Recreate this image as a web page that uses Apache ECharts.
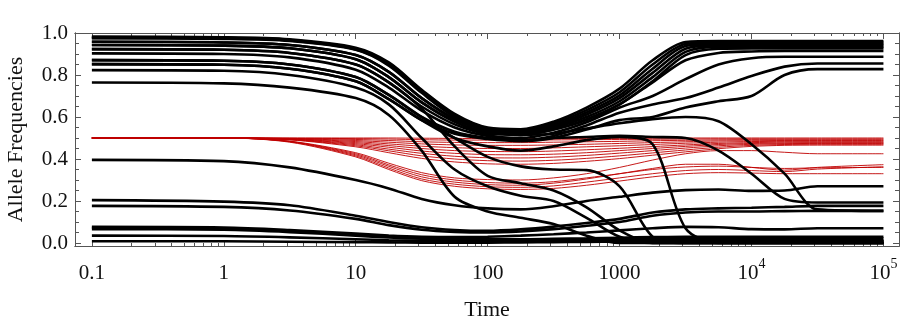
<!DOCTYPE html>
<html>
<head>
<meta charset="utf-8">
<script src="https://cdn.jsdelivr.net/npm/echarts@6/dist/echarts.min.js"></script>
<style>
html, body { margin: 0; padding: 0; background: #fff; }
#chart { width: 900px; height: 322px; }
</style>
</head>
<body>
<div id="chart"></div>
<script>
// sample times (x is log scale)
var times = [0.1, 1, 3.16, 10, 17.8, 31.6, 56.2, 100, 178, 316, 562, 1000, 1780, 3160, 5620, 10000, 17800, 31600, 100000];

// black curves - high group, come back to ~0.95
var top1 = [0.983, 0.98, 0.97, 0.93, 0.86, 0.73, 0.615, 0.55, 0.542, 0.578, 0.645, 0.735, 0.87, 0.957, 0.962, 0.962, 0.962, 0.962, 0.962];
var top2 = [0.98, 0.977, 0.967, 0.926, 0.855, 0.725, 0.61, 0.546, 0.537, 0.57, 0.633, 0.718, 0.85, 0.948, 0.955, 0.955, 0.955, 0.955, 0.955];
var top3 = [0.977, 0.974, 0.964, 0.922, 0.85, 0.72, 0.605, 0.542, 0.532, 0.562, 0.622, 0.703, 0.83, 0.938, 0.948, 0.948, 0.948, 0.948, 0.948];
var top4 = [0.958, 0.955, 0.943, 0.895, 0.815, 0.69, 0.59, 0.535, 0.526, 0.555, 0.612, 0.69, 0.81, 0.925, 0.941, 0.941, 0.941, 0.941, 0.941];
var top5 = [0.943, 0.94, 0.927, 0.875, 0.79, 0.67, 0.578, 0.528, 0.521, 0.548, 0.60, 0.675, 0.79, 0.91, 0.934, 0.934, 0.934, 0.934, 0.934];
var top6 = [0.923, 0.92, 0.905, 0.85, 0.765, 0.65, 0.565, 0.52, 0.515, 0.54, 0.59, 0.66, 0.77, 0.895, 0.925, 0.927, 0.927, 0.927, 0.927];
// slower risers
var rise1 = [0.958, 0.955, 0.943, 0.895, 0.815, 0.69, 0.59, 0.535, 0.515, 0.54, 0.585, 0.66, 0.765, 0.87, 0.905, 0.912, 0.914, 0.914, 0.914];
var rise2 = [0.903, 0.90, 0.884, 0.825, 0.74, 0.63, 0.55, 0.51, 0.50, 0.525, 0.575, 0.645, 0.70, 0.78, 0.85, 0.88, 0.887, 0.887, 0.887];
var rise3 = [0.871, 0.868, 0.85, 0.79, 0.705, 0.60, 0.53, 0.50, 0.49, 0.51, 0.56, 0.62, 0.66, 0.69, 0.74, 0.795, 0.84, 0.855, 0.855];
var rise4 = [0.852, 0.849, 0.83, 0.77, 0.685, 0.585, 0.52, 0.495, 0.485, 0.50, 0.54, 0.585, 0.60, 0.645, 0.675, 0.70, 0.80, 0.828, 0.828];
// hump then fall
var hump1 = [0.852, 0.849, 0.83, 0.77, 0.685, 0.585, 0.50, 0.46, 0.44, 0.46, 0.49, 0.505, 0.47, 0.07, 0, 0, 0, 0, 0];
var hump2 = [0.975, 0.972, 0.962, 0.92, 0.845, 0.715, 0.60, 0.54, 0.515, 0.52, 0.545, 0.57, 0.59, 0.60, 0.58, 0.47, 0.33, 0.16, 0.153];
var hump3 = [0.943, 0.94, 0.927, 0.875, 0.79, 0.67, 0.578, 0.515, 0.49, 0.50, 0.505, 0.51, 0.505, 0.50, 0.44, 0.33, 0.21, 0.193, 0.193];
// lost
var lost1 = [0.764, 0.76, 0.74, 0.69, 0.61, 0.44, 0.22, 0.15, 0.12, 0.09, 0.035, 0, 0, 0, 0, 0, 0, 0, 0];
var lost2 = [0.823, 0.82, 0.80, 0.74, 0.66, 0.50, 0.35, 0.27, 0.225, 0.20, 0.12, 0.03, 0, 0, 0, 0, 0, 0, 0];
var lost3 = [0.923, 0.92, 0.905, 0.85, 0.765, 0.64, 0.46, 0.32, 0.285, 0.25, 0.17, 0.06, 0, 0, 0, 0, 0, 0, 0];
var lost4 = [0.871, 0.868, 0.85, 0.79, 0.705, 0.60, 0.50, 0.41, 0.365, 0.35, 0.347, 0.27, 0.03, 0, 0, 0, 0, 0, 0];
// low group
var low1 = [0.396, 0.39, 0.36, 0.30, 0.26, 0.21, 0.18, 0.165, 0.16, 0.175, 0.20, 0.22, 0.24, 0.252, 0.255, 0.248, 0.25, 0.27, 0.27];
var low2 = [0.204, 0.197, 0.18, 0.13, 0.10, 0.075, 0.062, 0.058, 0.065, 0.078, 0.095, 0.115, 0.145, 0.16, 0.165, 0.168, 0.172, 0.177, 0.177];
var low3 = [0.177, 0.172, 0.155, 0.115, 0.085, 0.063, 0.053, 0.05, 0.055, 0.066, 0.082, 0.10, 0.13, 0.145, 0.15, 0.15, 0.152, 0.153, 0.153];
var low4 = [0.077, 0.074, 0.062, 0.045, 0.036, 0.03, 0.028, 0.03, 0.035, 0.042, 0.05, 0.06, 0.07, 0.077, 0.075, 0.066, 0.065, 0.07, 0.07];
var low5 = [0.072, 0.069, 0.057, 0.04, 0.03, 0.024, 0.02, 0.018, 0.018, 0.02, 0.022, 0.025, 0.028, 0.03, 0.03, 0.03, 0.03, 0.03, 0.03];
var low6 = [0.066, 0.063, 0.052, 0.035, 0.026, 0.02, 0.016, 0.014, 0.014, 0.015, 0.016, 0.018, 0.02, 0.021, 0.022, 0.022, 0.022, 0.022, 0.022];
var low7 = [0.035, 0.033, 0.027, 0.018, 0.013, 0.01, 0.008, 0.008, 0.009, 0.01, 0.011, 0.012, 0.013, 0.014, 0.014, 0.014, 0.014, 0.014, 0.014];
var low8 = [0.008, 0.008, 0.006, 0.004, 0.003, 0.002, 0.002, 0.002, 0.003, 0.004, 0.005, 0.006, 0.006, 0.007, 0.007, 0.007, 0.007, 0.007, 0.007];

// red curves, all start at 0.5
var red1 = [0.5, 0.5, 0.5, 0.5, 0.5, 0.499, 0.498, 0.497, 0.497, 0.497, 0.498, 0.498, 0.499, 0.5, 0.5, 0.5, 0.5, 0.5, 0.5];
var red2 = [0.5, 0.5, 0.499, 0.497, 0.495, 0.492, 0.49, 0.49, 0.49, 0.491, 0.492, 0.493, 0.494, 0.495, 0.496, 0.496, 0.496, 0.496, 0.496];
var red3 = [0.5, 0.5, 0.498, 0.493, 0.488, 0.482, 0.479, 0.478, 0.478, 0.48, 0.482, 0.484, 0.487, 0.489, 0.491, 0.492, 0.492, 0.492, 0.492];
var red4 = [0.5, 0.5, 0.497, 0.488, 0.48, 0.472, 0.467, 0.465, 0.465, 0.467, 0.47, 0.474, 0.478, 0.482, 0.486, 0.487, 0.488, 0.488, 0.488];
var red5 = [0.5, 0.5, 0.496, 0.483, 0.472, 0.461, 0.454, 0.45, 0.45, 0.453, 0.458, 0.463, 0.469, 0.475, 0.48, 0.483, 0.484, 0.484, 0.484];
var red6 = [0.5, 0.5, 0.495, 0.478, 0.464, 0.45, 0.44, 0.436, 0.435, 0.438, 0.444, 0.451, 0.459, 0.467, 0.474, 0.478, 0.48, 0.48, 0.48];
var red7 = [0.5, 0.5, 0.494, 0.473, 0.456, 0.438, 0.427, 0.421, 0.42, 0.423, 0.43, 0.44, 0.45, 0.46, 0.469, 0.474, 0.476, 0.477, 0.477];
var red8 = [0.5, 0.5, 0.493, 0.468, 0.447, 0.427, 0.413, 0.406, 0.405, 0.409, 0.417, 0.428, 0.44, 0.452, 0.463, 0.47, 0.473, 0.474, 0.474];
var red9 = [0.5, 0.5, 0.492, 0.463, 0.439, 0.415, 0.40, 0.392, 0.39, 0.394, 0.403, 0.415, 0.429, 0.443, 0.456, 0.465, 0.469, 0.47, 0.47];
var red10 = [0.5, 0.5, 0.491, 0.458, 0.43, 0.403, 0.386, 0.377, 0.375, 0.379, 0.389, 0.402, 0.418, 0.434, 0.449, 0.46, 0.465, 0.466, 0.466];
var red11 = [0.5, 0.5, 0.485, 0.43, 0.38, 0.335, 0.31, 0.302, 0.30, 0.31, 0.33, 0.36, 0.395, 0.425, 0.44, 0.44, 0.432, 0.425, 0.425];
var red12 = [0.5, 0.5, 0.483, 0.42, 0.365, 0.315, 0.29, 0.278, 0.275, 0.285, 0.305, 0.33, 0.355, 0.375, 0.375, 0.36, 0.347, 0.36, 0.373];
var red13 = [0.5, 0.5, 0.482, 0.415, 0.357, 0.305, 0.28, 0.268, 0.265, 0.272, 0.29, 0.31, 0.33, 0.345, 0.35, 0.345, 0.34, 0.352, 0.363];
var red14 = [0.5, 0.5, 0.48, 0.41, 0.35, 0.297, 0.27, 0.258, 0.255, 0.26, 0.275, 0.295, 0.315, 0.33, 0.335, 0.333, 0.33, 0.33, 0.33];
var red15 = [0.5, 0.5, 0.484, 0.425, 0.372, 0.325, 0.30, 0.288, 0.285, 0.292, 0.31, 0.33, 0.35, 0.362, 0.366, 0.36, 0.355, 0.358, 0.36];

var blackCurves = [top1, top2, top3, top4, top5, top6, rise1, rise2, rise3, rise4,
  hump1, hump2, hump3, lost1, lost2, lost3, lost4, low1, low2, low3, low4, low5, low6, low7, low8];
var redCurves = [red1, red2, red3, red4, red5, red6, red7, red8, red9, red10, red11, red12, red13, red14, red15];

var xTickLabels = ['0.1', '1', '10', '100', '1000', '10^4', '10^5'];
var yTickLabels = ['0.0', '0.2', '0.4', '0.6', '0.8', '1.0'];

var chart = echarts.init(document.getElementById('chart'));

var xMin = -1.128, xMax = 5.118;
var yMin = -0.0143, yMax = 1.0;
var frameColor = '#555';
var fontFamily = '"Liberation Serif", "DejaVu Serif", serif';

var xMajor = [-1, 0, 1, 2, 3, 4, 5];
var xMinor = [];
for (var d = -1; d < 5; d++) {
  for (var m = 2; m <= 9; m++) xMinor.push(d + Math.log10(m));
}
var yMajor = [0, 0.2, 0.4, 0.6, 0.8, 1.0];
var yMinor = [];
for (var k = 1; k < 20; k++) {
  if (k % 4 !== 0) yMinor.push(k * 0.05);
}

function toPoints(vals) {
  return vals.map(function (v, i) { return [Math.log10(times[i]), v]; });
}

function xAxisDef(pos, ticks, len, withLabels) {
  return {
    type: 'value', min: xMin, max: xMax, position: pos,
    axisLine: { show: true, onZero: false, lineStyle: { color: frameColor, width: 1 } },
    axisTick: { show: true, inside: true, length: len, customValues: ticks, lineStyle: { color: frameColor, width: 1 } },
    axisLabel: withLabels ? {
      show: true, customValues: xMajor, margin: 11, color: '#111',
      fontFamily: fontFamily, fontSize: 21,
      formatter: function (v) {
        var s = xTickLabels[Math.round(v) + 1];
        if (s.indexOf('^') > 0) {
          var p = s.split('^');
          return '{b|' + p[0] + '}{s|' + p[1] + '}';
        }
        return '{b|' + s + '}';
      },
      rich: {
        b: { fontFamily: fontFamily, fontSize: 21, color: '#111', lineHeight: 26, padding: [6, 0, 0, 0] },
        s: { fontFamily: fontFamily, fontSize: 14, color: '#111', lineHeight: 15, verticalAlign: 'top' }
      }
    } : { show: false },
    splitLine: { show: false },
    name: withLabels ? 'Time' : '',
    nameLocation: 'middle', nameGap: 53,
    nameTextStyle: { fontFamily: fontFamily, fontSize: 22, color: '#111' }
  };
}

function yAxisDef(pos, ticks, len, withLabels) {
  return {
    type: 'value', min: yMin, max: yMax, position: pos,
    axisLine: { show: true, onZero: false, lineStyle: { color: frameColor, width: 1 } },
    axisTick: { show: true, inside: true, length: len, customValues: ticks, lineStyle: { color: frameColor, width: 1 } },
    axisLabel: withLabels ? {
      show: true, customValues: yMajor, margin: 7, color: '#111',
      fontFamily: fontFamily, fontSize: 21,
      formatter: function (v) { return yTickLabels[Math.round(v * 5)]; }
    } : { show: false },
    splitLine: { show: false },
    name: withLabels ? 'Allele Frequencies' : '',
    nameLocation: 'middle', nameGap: 48, nameRotate: 90,
    nameTextStyle: { fontFamily: fontFamily, fontSize: 22, color: '#111' }
  };
}

var series = [];
redCurves.forEach(function (c, i) {
  series.push({
    name: 'red' + i, type: 'line', data: toPoints(c), smooth: 0.3,
    symbol: 'none', lineStyle: { color: '#c00000', width: 0.9 }, z: 2
  });
});
blackCurves.forEach(function (c, i) {
  series.push({
    name: 'black' + i, type: 'line', data: toPoints(c), smooth: 0.3,
    symbol: 'none', lineStyle: { color: '#000', width: 2.6 }, z: 3
  });
});

var option = {
  animation: false,
  backgroundColor: '#fff',
  grid: { left: 75, right: 1, top: 33, bottom: 76, containLabel: false, outerBoundsMode: 'none' },
  xAxis: [
    xAxisDef('bottom', xMajor, 6, true),
    xAxisDef('bottom', xMinor, 3, false),
    xAxisDef('top', xMajor, 6, false),
    xAxisDef('top', xMinor, 3, false)
  ],
  yAxis: [
    yAxisDef('left', yMajor, 6, true),
    yAxisDef('left', yMinor, 4, false),
    yAxisDef('right', yMajor, 6, false),
    yAxisDef('right', yMinor, 4, false)
  ],
  series: series
};

chart.setOption(option);
</script>
</body>
</html>
